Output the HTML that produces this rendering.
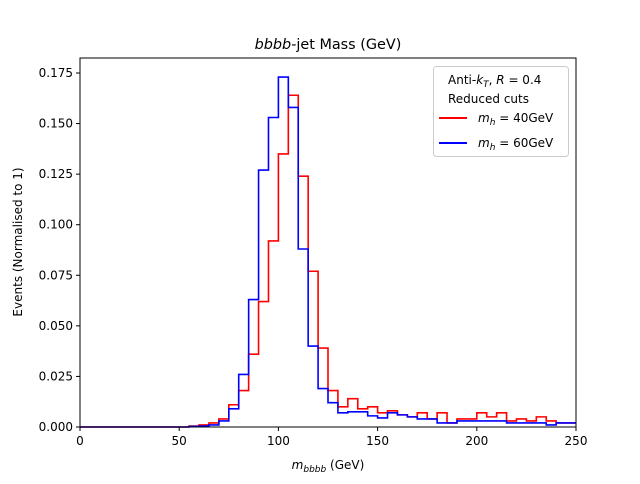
<!DOCTYPE html>
<html><head><meta charset="utf-8"><style>
body{margin:0;background:#fff;font-family:"DejaVu Sans","Liberation Sans",sans-serif;}
svg text{font-family:"DejaVu Sans","Liberation Sans",sans-serif;}
</style></head><body>
<svg id="c" width="640" height="480" xmlns="http://www.w3.org/2000/svg">
<rect width="640" height="480" fill="#fff"/>
<g id="plot"></g>
<rect x="80" y="58" width="496" height="369" fill="none" stroke="#000" stroke-width="1"/>
<text x="328" y="49" font-size="14.4" text-anchor="middle"><tspan font-style="italic">bbbb</tspan>-jet Mass (GeV)</text>
<text x="328" y="469" font-size="12" text-anchor="middle"><tspan font-style="italic">m</tspan><tspan font-style="italic" font-size="9" dy="3">bbbb</tspan><tspan dy="-3"> (GeV)</tspan></text>
<text transform="translate(22,242) rotate(-90)" font-size="12" text-anchor="middle">Events (Normalised to 1)</text>
<g>
<rect x="433.5" y="66.5" width="135" height="90" rx="3" fill="#fff" stroke="#ccc"/>
<text x="448" y="84" font-size="12">Anti-<tspan font-style="italic">k</tspan><tspan font-style="italic" font-size="9" dy="3">T</tspan><tspan dy="-3">, </tspan><tspan font-style="italic">R</tspan> = 0.4</text>
<text x="448" y="103" font-size="12">Reduced cuts</text>
<line x1="439" y1="118" x2="467" y2="118" stroke="red" stroke-width="2"/>
<text x="478" y="122" font-size="12"><tspan font-style="italic">m</tspan><tspan font-style="italic" font-size="9" dy="3">h</tspan><tspan dy="-3"> = 40GeV</tspan></text>
<line x1="439" y1="143" x2="467" y2="143" stroke="blue" stroke-width="2"/>
<text x="478" y="147" font-size="12"><tspan font-style="italic">m</tspan><tspan font-style="italic" font-size="9" dy="3">h</tspan><tspan dy="-3"> = 60GeV</tspan></text>
</g>
</svg>
<script>
const binStart = 0, binWidth = 5;
const red40 = [0,0,0,0,0,0,0,0,0,0,0,0.0005,0.001,0.002,0.004,0.011,0.018,0.036,0.062,0.092,0.135,0.164,0.124,0.077,0.039,0.018,0.010,0.014,0.009,0.010,0.007,0.008,0.006,0.005,0.007,0.004,0.007,0.002,0.004,0.004,0.007,0.005,0.007,0.003,0.004,0.003,0.005,0.003,0.002,0.002];
const blue60 = [0,0,0,0,0,0,0,0,0,0,0,0.0003,0.0005,0.001,0.003,0.009,0.026,0.063,0.127,0.153,0.173,0.158,0.088,0.040,0.019,0.012,0.007,0.0075,0.0075,0.0055,0.0045,0.007,0.006,0.005,0.004,0.004,0.002,0.002,0.003,0.003,0.003,0.003,0.003,0.002,0.002,0.002,0.002,0.001,0.002,0.002];
const xTicks = [0,50,100,150,200,250];
const yTicks = [0.000,0.025,0.050,0.075,0.100,0.125,0.150,0.175];
const X = v => 80 + v/250*496;
const Y = v => 427 - v/0.175*354;
const NS = "http://www.w3.org/2000/svg";
const g = document.getElementById('plot');
function mk(t, a){const e=document.createElementNS(NS,t);for(const k in a)e.setAttribute(k,a[k]);g.appendChild(e);return e;}
function step(vals,color,name){
  let d = "M"+X(binStart)+","+Y(vals[0]);
  vals.forEach((v,i)=>{const x0=X(binStart+i*binWidth),x1=X(binStart+(i+1)*binWidth);d+=" L"+x0+","+Y(v)+" L"+x1+","+Y(v);});
  const p = mk('path',{d:d,fill:'none',stroke:color,'stroke-width':1.6,'stroke-linejoin':'miter'});
  
  
}
step(red40,'red','series-mh-40');
step(blue60,'blue','series-mh-60');
xTicks.forEach(t=>{
  const l=mk('line',{x1:X(t),x2:X(t),y1:427,y2:431,stroke:'#000'});
  
  
  const tx=mk('text',{x:X(t),y:445,'font-size':12,'text-anchor':'middle'});tx.textContent=t;
  
  
});
yTicks.forEach(t=>{
  const l=mk('line',{x1:76,x2:80,y1:Y(t),y2:Y(t),stroke:'#000'});
  
  
  const tx=mk('text',{x:73,y:Y(t)+4,'font-size':12,'text-anchor':'end'});tx.textContent=t.toFixed(3);
  
  
});
</script>
</body></html>
